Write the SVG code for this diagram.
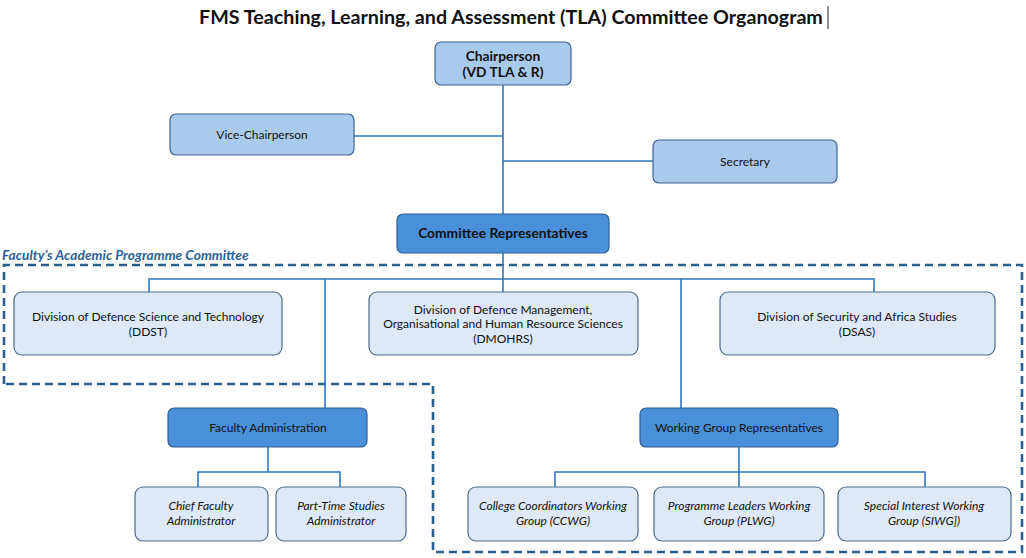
<svg xmlns="http://www.w3.org/2000/svg" width="1026" height="558" viewBox="0 0 1026 558">
<style>
text{font-family:Lato,"Open Sans","Liberation Sans",sans-serif;fill:#111;text-anchor:middle;font-size:12px}
.title{font-size:19.7px;font-weight:bold}
.b{font-weight:bold;font-size:13.8px}
.i{font-style:italic}
.l1{fill:#a9c9ed;stroke:#3f6593;stroke-width:1.2}
.l2{fill:#4a90d9;stroke:#2f5f93;stroke-width:1.2}
.l3{fill:#dde9f6;stroke:#4d6b8e;stroke-width:1.2}
.c{fill:none;stroke:#2f77b8;stroke-width:1.6}
.dash{fill:none;stroke:#2d5f8e;stroke-width:2.6;stroke-dasharray:8,5}
.lbl{fill:#2d5f97;font-weight:bold;font-style:italic;text-anchor:start;font-size:13.8px}
</style>
<rect width="1026" height="558" fill="#fff"/>
<text class="title" x="511" y="24">FMS Teaching, Learning, and Assessment (TLA) Committee Organogram</text>
<line x1="828" y1="6" x2="828" y2="29" stroke="#222" stroke-width="1"/>
<g id="group-committee">
<path class="dash" d="M4,384 V265 H1022 V552 H433 V384 H4"/>
<text class="lbl" x="2" y="260">Faculty’s Academic Programme Committee</text>
</g>
<g id="connectors">
<path class="c" d="M503,85 V214"/>
<path class="c" d="M354,136 H503"/>
<path class="c" d="M503,161 H653"/>
<path class="c" d="M503,253 V292"/>
<path class="c" d="M149,292 V279 H874 V292"/>
<path class="c" d="M325,279 V408"/>
<path class="c" d="M681,279 V408"/>
<path class="c" d="M268,447 V472"/>
<path class="c" d="M198,487 V472 H340 V487"/>
<path class="c" d="M739,447 V472"/>
<path class="c" d="M555,487 V472 H925 V487"/>
<path class="c" d="M739,472 V487"/>
</g>
<g id="chairperson"><rect class="l1" x="435" y="42" width="136" height="43" rx="6"/><text class="b" x="503" y="61">Chairperson</text><text class="b" x="503" y="77">(VD TLA &amp; R)</text></g>
<g id="vice-chairperson"><rect class="l1" x="170" y="114" width="184" height="41" rx="6"/><text x="262" y="139">Vice-Chairperson</text></g>
<g id="secretary"><rect class="l1" x="653" y="140" width="184" height="43" rx="6"/><text x="745" y="166">Secretary</text></g>
<g id="committee-representatives"><rect class="l2" x="397" y="214" width="212" height="39" rx="6"/><text class="b" x="503" y="238">Committee Representatives</text></g>
<g id="ddst"><rect class="l3" x="14" y="292" width="268" height="63" rx="8"/><text x="148" y="321">Division of Defence Science and Technology</text><text x="148" y="336">(DDST)</text></g>
<g id="dmohrs"><rect class="l3" x="369" y="292" width="269" height="63" rx="8"/><text x="503" y="314">Division of Defence Management,</text><text x="503" y="328">Organisational and Human Resource Sciences</text><text x="503" y="343">(DMOHRS)</text></g>
<g id="dsas"><rect class="l3" x="720" y="292" width="275" height="63" rx="8"/><text x="857" y="321">Division of Security and Africa Studies</text><text x="857" y="336">(DSAS)</text></g>
<g id="faculty-administration"><rect class="l2" x="168" y="408" width="199" height="39" rx="6"/><text x="268" y="432">Faculty Administration</text></g>
<g id="working-group-representatives"><rect class="l2" x="640" y="408" width="198" height="39" rx="6"/><text x="739" y="432">Working Group Representatives</text></g>
<g id="chief-faculty-administrator"><rect class="l3" x="135" y="487" width="133" height="54" rx="8"/><text class="i" x="201" y="510">Chief Faculty</text><text class="i" x="201" y="525">Administrator</text></g>
<g id="part-time-studies-administrator"><rect class="l3" x="276" y="487" width="130" height="54" rx="8"/><text class="i" x="341" y="510">Part-Time Studies</text><text class="i" x="341" y="525">Administrator</text></g>
<g id="ccwg"><rect class="l3" x="468" y="487" width="170" height="54" rx="8"/><text class="i" x="553" y="510">College Coordinators Working</text><text class="i" x="553" y="525">Group (CCWG)</text></g>
<g id="plwg"><rect class="l3" x="654" y="487" width="170" height="54" rx="8"/><text class="i" x="739" y="510">Programme Leaders Working</text><text class="i" x="739" y="525">Group (PLWG)</text></g>
<g id="siwg"><rect class="l3" x="838" y="487" width="173" height="54" rx="8"/><text class="i" x="924" y="510">Special Interest Working</text><text class="i" x="924" y="525">Group (SIWG])</text></g>
</svg>
